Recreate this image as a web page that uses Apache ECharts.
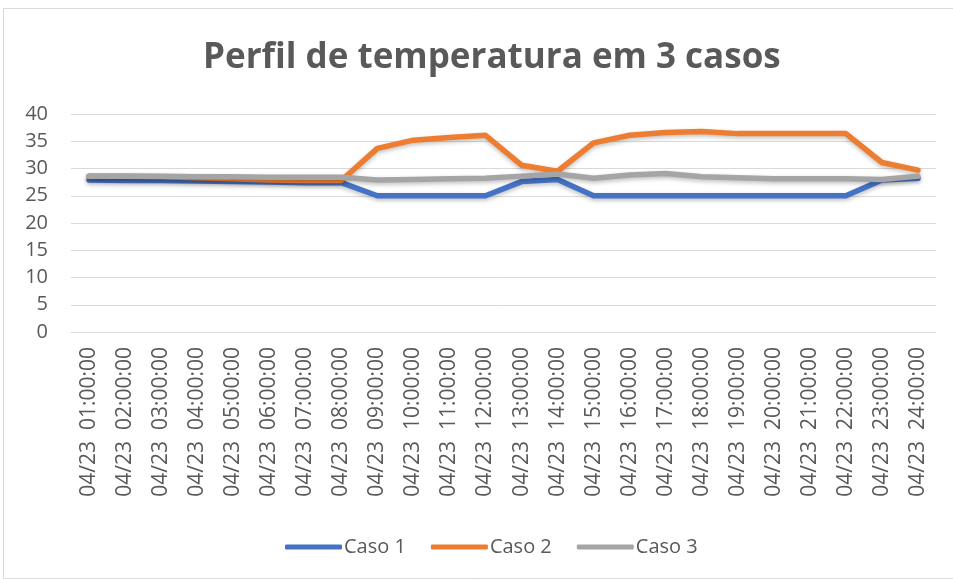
<!DOCTYPE html>
<html><head><meta charset="utf-8">
<script src="https://cdn.jsdelivr.net/npm/echarts@6/dist/echarts.min.js"></script>
<style>html,body{margin:0;padding:0;background:#fff}#c{width:953px;height:579px}</style>
</head><body><div id="c"></div>
<script>
const categories = ['04/23  01:00:00','04/23  02:00:00','04/23  03:00:00','04/23  04:00:00','04/23  05:00:00','04/23  06:00:00','04/23  07:00:00','04/23  08:00:00','04/23  09:00:00','04/23  10:00:00','04/23  11:00:00','04/23  12:00:00','04/23  13:00:00','04/23  14:00:00','04/23  15:00:00','04/23  16:00:00','04/23  17:00:00','04/23  18:00:00','04/23  19:00:00','04/23  20:00:00','04/23  21:00:00','04/23  22:00:00','04/23  23:00:00','04/23  24:00:00'];
const caso1 = [27.9,27.8,27.8,27.7,27.6,27.5,27.4,27.4,25.0,25.0,25.0,25.0,27.6,28.0,25.0,25.0,25.0,25.0,25.0,25.0,25.0,25.0,27.9,28.2];
const caso2 = [28.6,28.6,28.5,28.3,28.1,27.9,27.8,27.8,33.7,35.2,35.7,36.1,30.6,29.5,34.7,36.1,36.6,36.8,36.4,36.4,36.4,36.4,31.1,29.7];
const caso3 = [28.6,28.6,28.6,28.5,28.5,28.4,28.4,28.4,27.9,28.0,28.1,28.2,28.6,29.0,28.2,28.8,29.1,28.5,28.3,28.1,28.1,28.1,28.0,28.6];
const seriesNames = ['Caso 1','Caso 2','Caso 3'];
const colors = ['#4472C4','#ED7D31','#A5A5A5'];
const yTicks = {min:0, max:40, interval:5};

const chart = echarts.init(document.getElementById('c'), null, {renderer:'canvas'});
const mk = (name, data, color) => ({
  name, type:'line', data, symbol:'none', smooth:false,
  lineStyle:{width:5.5, color, cap:'round', join:'round', shadowColor:'rgba(0,0,0,0.25)', shadowBlur:4, shadowOffsetY:2},
  itemStyle:{color}
});
chart.setOption({
  animation:false,
  graphic:[{type:'rect', shape:{x:3.5,y:8.5,width:960,height:570}, style:{fill:'none', stroke:'#d9d9d9', lineWidth:1}, silent:true}],
  title:{text:'Perfil de temperatura em 3 casos', left:198, top:36,
    textStyle:{fontFamily:'Open Sans', fontWeight:'bold', fontSize:35, color:'#595959'}},
  legend:{bottom:17, left:280, itemWidth:57, itemHeight:5, itemGap:25,
    icon:'roundRect',
    textStyle:{fontFamily:'Open Sans', fontSize:20, color:'#595959', padding:[0,0,0,-3]},
    data:seriesNames},
  grid:{left:71, right:17, top:114, bottom:247, containLabel:false},
  xAxis:{type:'category', data:categories, boundaryGap:true,
    axisLine:{show:true, lineStyle:{color:'#d9d9d9', width:1}},
    axisTick:{show:false},
    axisLabel:{rotate:90, interval:0, fontFamily:'Open Sans', fontSize:21, color:'#595959', margin:15}},
  yAxis:{type:'value', min:yTicks.min, max:yTicks.max, interval:yTicks.interval,
    axisLine:{show:false}, axisTick:{show:false},
    splitLine:{lineStyle:{color:'#d9d9d9', width:1}},
    axisLabel:{fontFamily:'Open Sans', fontSize:20, color:'#595959', margin:23}},
  series:[mk(seriesNames[0], caso1, colors[0]), mk(seriesNames[1], caso2, colors[1]), mk(seriesNames[2], caso3, colors[2])]
});
</script></body></html>
